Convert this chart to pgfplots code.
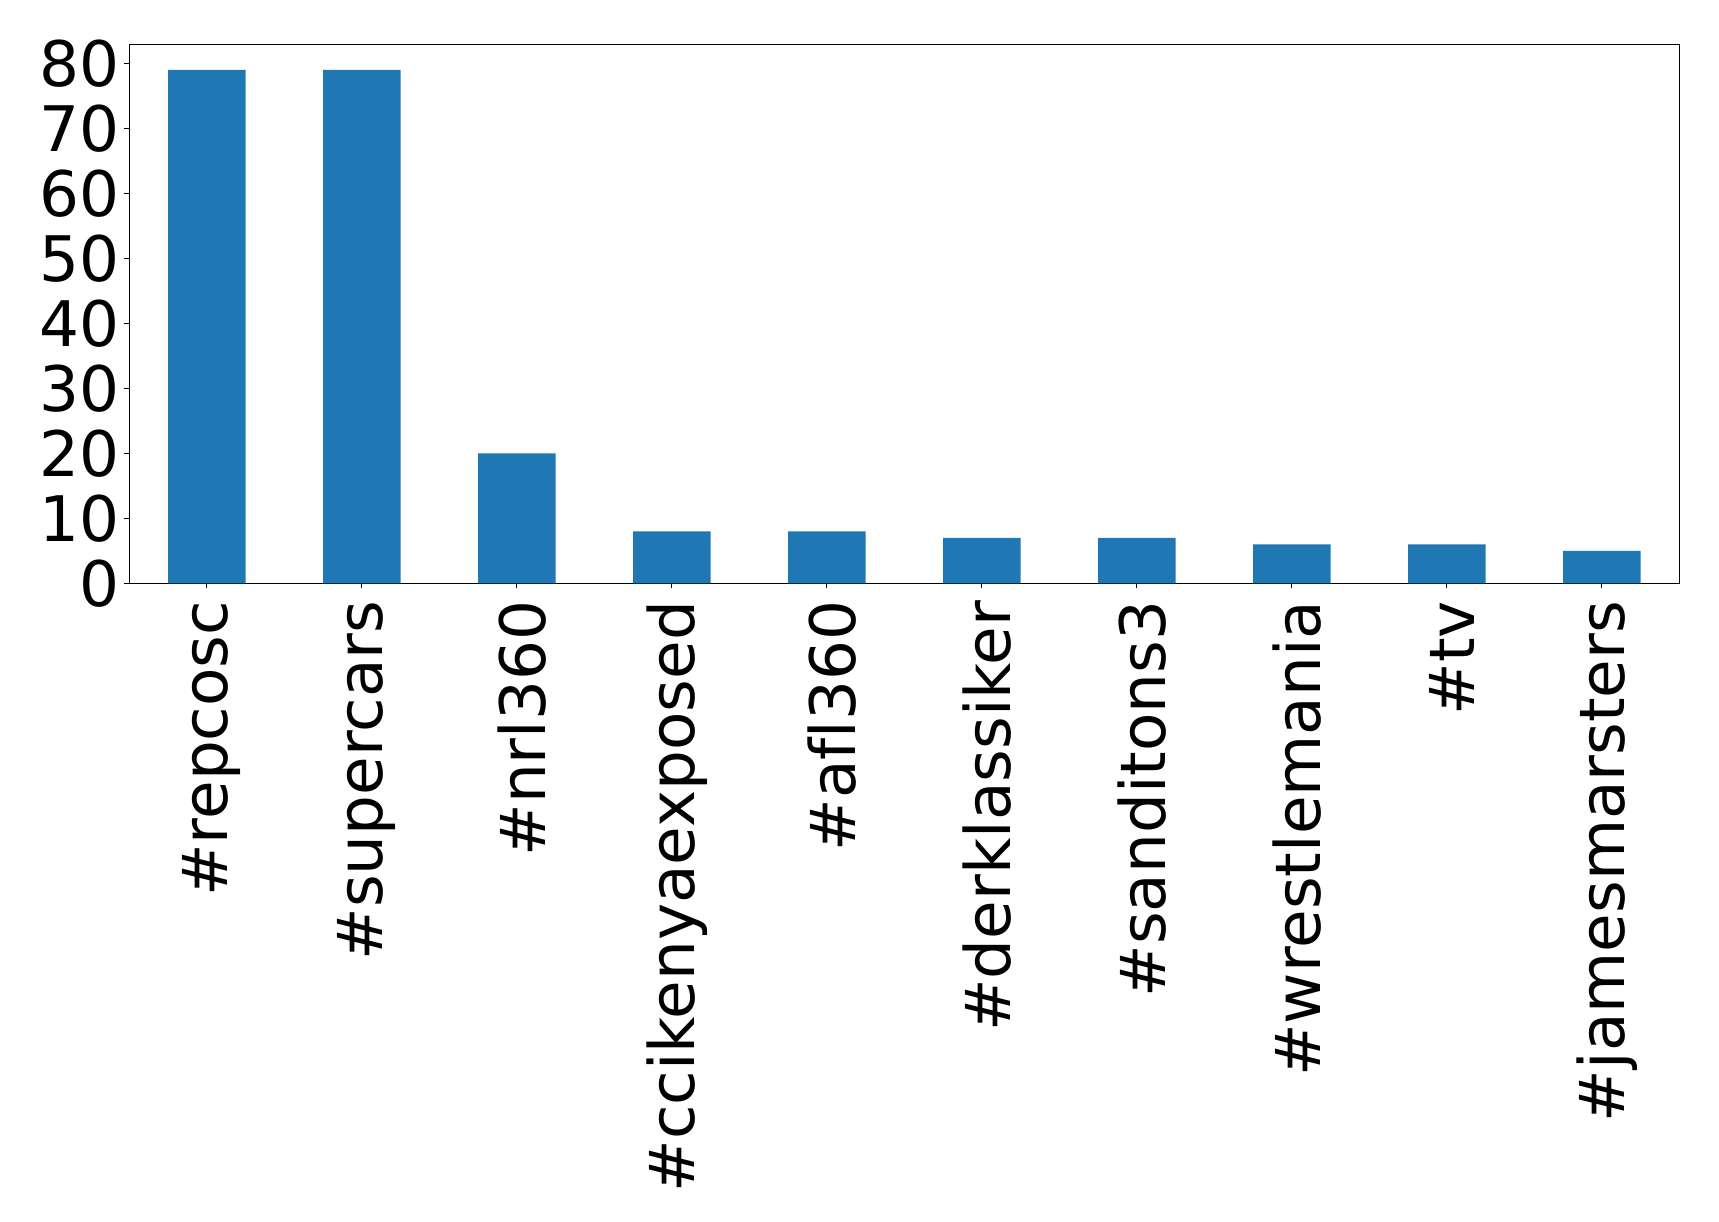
\documentclass[border=0pt]{standalone}
\usepackage{pgfplots}
\pgfplotsset{compat=1.18}
\usepackage{fontspec}
\setmainfont{DejaVu Sans}[Ligatures=NoCommon]
\definecolor{mplblue}{HTML}{1F77B4}
\begin{document}
\begin{tikzpicture}
\useasboundingbox (-64.65pt,-318.85pt) rectangle (794.85pt,291.65pt);
\begin{axis}[
  scale only axis,
  width=775pt, height=269.5pt,
  at={(0,0)}, anchor=south west,
  xmin=-0.5, xmax=9.5,
  ymin=0, ymax=82.95,
  xtick=data,
  xticklabels={\#repcosc,\#supercars,\#nrl360,\#ccikenyaexposed,\#af{}l360,\#derklassiker,\#sanditons3,\#wrestlemania,\#tv,\#jamesmarsters},
  ytick={0,10,20,30,40,50,60,70,80},
  tick align=outside,
  major tick length=2.5pt,
  xtick pos=bottom, ytick pos=left,
  /pgf/number format/assume math mode=true,
  tick label style={font=\fontsize{31.4}{31.4}\selectfont},
  xticklabel style={xshift=2.5pt, rotate=90, anchor=east},
  xticklabel shift=2.8pt,
  yticklabel shift=-1.2pt,
  axis line style={line width=0.5pt},
  tick style={line width=0.5pt, black},
]
\addplot[ybar, bar width=0.5, fill=mplblue, draw=none] coordinates {
(0,79) (1,79) (2,20) (3,8) (4,8) (5,7) (6,7) (7,6) (8,6) (9,5)
};
\end{axis}
\end{tikzpicture}
\end{document}
